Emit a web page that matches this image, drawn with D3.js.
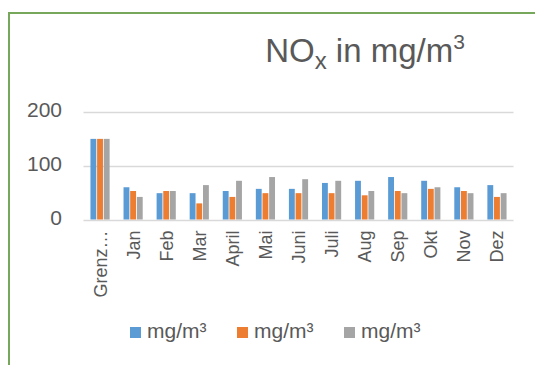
<!DOCTYPE html>
<html>
<head>
<meta charset="utf-8">
<script src="https://cdn.jsdelivr.net/npm/d3@7"></script>
<style>
  html, body { margin: 0; padding: 0; background: #fff; }
  svg { display: block; font-family: "Liberation Sans", Arial, sans-serif; }
</style>
</head>
<body>
<svg id="chart" width="535" height="365"></svg>
<script>
// ---- data ----
const categories = ["Grenz…", "Jan", "Feb", "Mar", "April", "Mai", "Juni", "Juli", "Aug", "Sep", "Okt", "Nov", "Dez"];
const seriesNames = ["mg/m³", "mg/m³", "mg/m³"];
const seriesBlue   = [150, 60, 49, 49, 53, 57, 57, 68, 72, 79, 72, 60, 64];
const seriesOrange = [150, 53, 53, 30, 42, 49, 49, 49, 45, 53, 57, 53, 42];
const seriesGray   = [150, 42, 53, 64, 72, 79, 75, 72, 53, 49, 60, 49, 49];
const yTicks = [0, 100, 200];
const colors = ["#5B9BD5", "#ED7D31", "#A5A5A5"];

const allSeries = [seriesBlue, seriesOrange, seriesGray];
const svg = d3.select("#chart");
const textColor = "#595959";

// frame (partial green border)
svg.append("path")
  .attr("d", "M9,365 L9,13 L535,13")
  .attr("fill", "none")
  .attr("stroke", "#76A75A")
  .attr("stroke-width", 2);

// title
const title = svg.append("text")
  .attr("x", 365).attr("y", 62)
  .attr("text-anchor", "middle")
  .attr("fill", textColor)
  .attr("font-size", 33);
title.append("tspan").text("NO");
title.append("tspan").attr("font-size", 24).attr("dy", 7).text("x");
title.append("tspan").attr("dy", -7).text(" in mg/m");
title.append("tspan").attr("font-size", 21).attr("dy", -13).text("3");

// scales
const plotLeft = 83.5, plotRight = 513.5;
const y = d3.scaleLinear().domain([0, 200]).range([219.5, 112]);
const x0 = d3.scaleBand().domain(categories).range([plotLeft, plotRight])
  .paddingInner(0.42).paddingOuter(0.21);
const x1 = d3.scaleBand().domain(d3.range(allSeries.length)).range([0, x0.bandwidth()])
  .paddingInner(0.12);

// gridlines
svg.append("g").selectAll("line").data(yTicks).join("line")
  .attr("x1", plotLeft).attr("x2", plotRight)
  .attr("y1", d => Math.round(y(d)) + 0.5).attr("y2", d => Math.round(y(d)) + 0.5)
  .attr("stroke", "#D9D9D9").attr("stroke-width", 1.3);

// y-axis labels
const yAxis = d3.axisLeft(y).tickValues(yTicks).tickSize(0).tickPadding(0);
const yg = svg.append("g").attr("transform", "translate(62,-2)").call(yAxis);
yg.select(".domain").remove();
yg.selectAll("text").attr("fill", textColor).attr("font-size", 21)
  .attr("font-family", "Liberation Sans, Arial, sans-serif");

// bars
const groups = svg.append("g").selectAll("g").data(categories).join("g")
  .attr("transform", d => `translate(${x0(d)},0)`);
groups.selectAll("rect")
  .data((d, i) => allSeries.map((s, k) => ({ k, v: s[i] })))
  .join("rect")
  .attr("x", d => x1(d.k))
  .attr("width", x1.bandwidth())
  .attr("y", d => y(d.v))
  .attr("height", d => y(0) - y(d.v))
  .attr("fill", d => colors[d.k]);

// x-axis category labels
const xAxis = d3.axisBottom(x0).tickSize(0).tickPadding(0);
const xg = svg.append("g").attr("transform", `translate(0,${y(0)})`).call(xAxis);
xg.select(".domain").remove();
xg.selectAll("text")
  .attr("fill", textColor).attr("font-size", 18)
  .attr("font-family", "Liberation Sans, Arial, sans-serif")
  .attr("text-anchor", "end")
  .attr("transform", "rotate(-90)")
  .attr("x", -11).attr("y", 0).attr("dy", "0.36em");

// legend
const legendX = [130, 237, 344];
const lg = svg.append("g").selectAll("g").data(seriesNames).join("g")
  .attr("transform", (d, i) => `translate(${legendX[i]},327)`);
lg.append("rect").attr("width", 11).attr("height", 11).attr("fill", (d, i) => colors[i]);
lg.append("text").attr("x", 17).attr("y", 11)
  .attr("fill", textColor).attr("font-size", 21).text(d => d);
</script>
</body>
</html>
